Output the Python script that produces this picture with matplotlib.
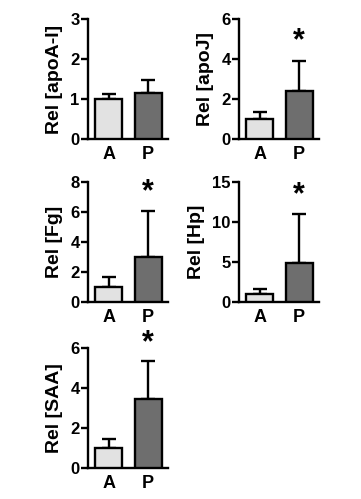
import matplotlib

matplotlib.use("Agg")
import matplotlib.pyplot as plt

plt.rcParams["font.family"] = ["Liberation Sans", "DejaVu Sans"]
plt.rcParams["font.weight"] = "bold"

W, H = 361, 499

groups = ["A", "P"]
markers = ["apoA-I", "apoJ", "Fg", "Hp", "SAA"]
means = {
    "apoA-I": [1.0, 1.15],
    "apoJ": [1.0, 2.4],
    "Fg": [1.0, 3.0],
    "Hp": [1.0, 4.9],
    "SAA": [1.0, 3.45],
}
upper_err = {
    "apoA-I": [0.13, 0.33],
    "apoJ": [0.35, 1.5],
    "Fg": [0.7, 3.05],
    "Hp": [0.6, 6.1],
    "SAA": [0.45, 1.9],
}
ymax = {"apoA-I": 3, "apoJ": 6, "Fg": 8, "Hp": 15, "SAA": 6}
yticks = {
    "apoA-I": [0, 1, 2, 3],
    "apoJ": [0, 2, 4, 6],
    "Fg": [0, 2, 4, 6, 8],
    "Hp": [0, 5, 10, 15],
    "SAA": [0, 2, 4, 6],
}
star_y = {"apoA-I": None, "apoJ": 4.9, "Fg": 7.3, "Hp": 13.4, "SAA": 6.25}

# axes boxes in pixels: left, top(value=max), bottom(value=0)
boxes = {
    "apoA-I": (88, 19, 139),
    "apoJ": (239, 19, 139),
    "Fg": (88, 182, 302),
    "Hp": (239, 182, 302),
    "SAA": (88, 348, 468),
}
colors = ["#e2e2e2", "#6e6e6e"]

fig = plt.figure(figsize=(W / 100, H / 100), dpi=100)

for name in markers:
    left, top, bottom = boxes[name]
    ax = fig.add_axes([left / W, 1 - bottom / H, 80 / W, (bottom - top) / H])
    x = range(len(groups))
    ax.bar(x, means[name], width=0.68, color=colors, edgecolor="black",
           linewidth=1.7, zorder=3)
    ax.errorbar(x, means[name], yerr=[[0, 0], upper_err[name]], fmt="none",
                ecolor="black", elinewidth=1.7, capsize=5, capthick=1.7, zorder=2)
    if star_y[name] is not None:
        ax.text(1, star_y[name], "*", ha="center", va="center", fontsize=22,
                fontweight="bold", clip_on=False)
    ax.set_xlim(-0.53, 1.5)
    ax.set_ylim(0, ymax[name])
    ax.set_yticks(yticks[name])
    ax.set_xticks(list(x))
    ax.set_xticklabels(groups, fontsize=13, fontweight="bold")
    ax.tick_params(axis="x", length=0, pad=5)
    ax.tick_params(axis="y", length=5, width=1.7, labelsize=12, pad=1)
    for lab in ax.get_yticklabels():
        lab.set_fontweight("bold")
    for s in ("top", "right"):
        ax.spines[s].set_visible(False)
    for s in ("left", "bottom"):
        ax.spines[s].set_linewidth(1.7)
    ax.set_ylabel(f"Rel [{name}]", fontsize=14, fontweight="bold", labelpad=5)

fig.savefig("out.png", dpi=100)
